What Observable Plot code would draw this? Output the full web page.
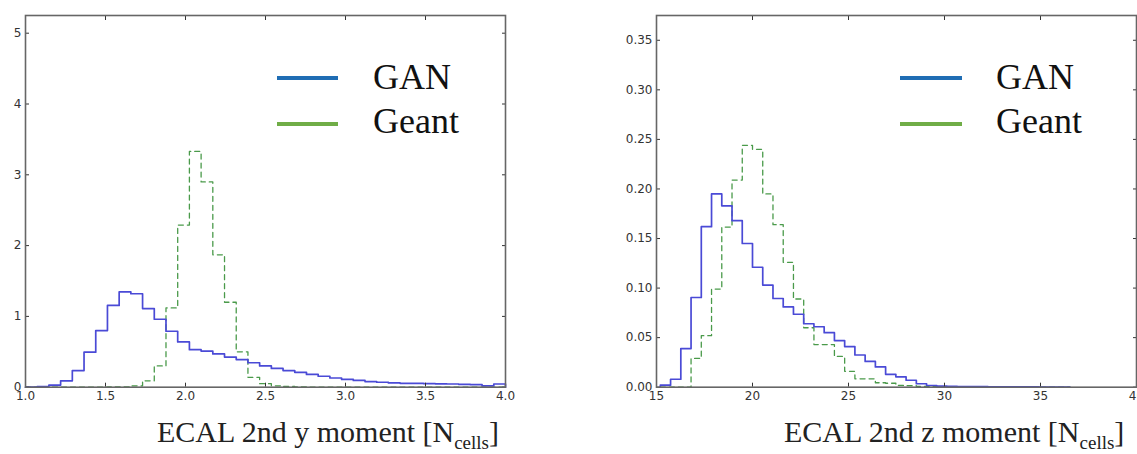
<!DOCTYPE html>
<html><head><meta charset="utf-8">
<script src="https://cdn.jsdelivr.net/npm/d3@7"></script>
<script src="https://cdn.jsdelivr.net/npm/@observablehq/plot@0.6"></script>
<style>
html,body{margin:0;padding:0;background:#fff;}
#wrap{position:relative;width:1137px;height:454px;overflow:hidden;background:#fff;}
#left{position:absolute;left:0;top:0;}
#right{position:absolute;left:580px;top:0;}
#overlay{position:absolute;left:0;top:0;pointer-events:none;}
</style></head>
<body>
<div id="wrap"><div id="left"></div><div id="right"></div><svg id="overlay" width="1137" height="454"></svg></div>
<script>
// ---- data ----
const seriesNames = ["GAN", "Geant"];

// ECAL 2nd y moment: 41 bins from 1.0 to 4.0
const yMomentBinStart = 1.0;
const yMomentBinEnd = 4.0;
const yMomentBinCount = 41;
const yMomentGAN = [0, 0.01, 0.03, 0.09, 0.235, 0.495, 0.8, 1.155, 1.345, 1.32, 1.11, 0.96, 0.79, 0.64, 0.53, 0.51, 0.47, 0.425, 0.39, 0.345, 0.30, 0.265, 0.235, 0.21, 0.18, 0.155, 0.13, 0.11, 0.095, 0.08, 0.07, 0.06, 0.055, 0.055, 0.05, 0.048, 0.045, 0.04, 0.035, 0.02, 0.045];
const yMomentGeant = [0, 0, 0, 0, 0, 0, 0, 0.003, 0.005, 0.02, 0.09, 0.3, 1.12, 2.29, 3.33, 2.9, 1.87, 1.2, 0.5, 0.14, 0.05, 0.02, 0.01, 0.005, 0.002, 0.001, 0, 0, 0, 0, 0, 0, 0, 0, 0, 0, 0, 0, 0, 0, 0];
const yMomentXTicks = [1.0, 1.5, 2.0, 2.5, 3.0, 3.5, 4.0];
const yMomentYTicks = [0, 1, 2, 3, 4, 5];

// ECAL 2nd z moment: 40 bins from 15.2 to 36.53
const zMomentBinStart = 15.2;
const zMomentBinEnd = 36.533;
const zMomentBinCount = 40;
const zMomentGAN = [0.002, 0.008, 0.039, 0.0905, 0.162, 0.195, 0.183, 0.168, 0.145, 0.121, 0.103, 0.0895, 0.081, 0.0736, 0.064, 0.061, 0.055, 0.047, 0.041, 0.0325, 0.026, 0.0205, 0.013, 0.0105, 0.007, 0.0035, 0.0017, 0.001, 0.0008, 0.0006, 0.0005, 0.0005, 0.0004, 0.0003, 0.0003, 0.0003, 0.0003, 0.0002, 0.0002, 0.0002];
const zMomentGeant = [0, 0, 0, 0.029, 0.052, 0.099, 0.1615, 0.209, 0.244, 0.240, 0.195, 0.164, 0.126, 0.089, 0.060, 0.043, 0.043, 0.031, 0.016, 0.0085, 0.0085, 0.0045, 0.004, 0.0018, 0.0015, 0.0008, 0.0005, 0.0003, 0.0002, 0.0001, 0, 0, 0, 0, 0, 0, 0, 0, 0, 0];
const zMomentXTicks = [15, 20, 25, 30, 35, 40];
const zMomentYTicks = [0, 0.05, 0.10, 0.15, 0.20, 0.25, 0.30, 0.35];

// ---- helpers ----
function binEdges(start, end, count) {
  return d3.range(count + 1).map(i => start + (end - start) * i / count);
}
function stepPoints(edges, values) {
  const pts = [{x: edges[0], y: 0}];
  values.forEach((v, i) => pts.push({x: edges[i], y: v}));
  pts.push({x: edges[values.length], y: values[values.length - 1]});
  pts.push({x: edges[values.length], y: 0});
  return pts;
}

const GAN_COLOR = "#4a4ad6";
const GEANT_COLOR = "#4a9a4a";

function panel(o) {
  return Plot.plot({
    width: o.width, height: 410,
    marginLeft: o.marginLeft, marginRight: o.marginRight, marginTop: 15, marginBottom: 23.3,
    x: {domain: o.xDomain},
    y: {domain: o.yDomain},
    style: {fontFamily: "'DejaVu Sans', sans-serif", fontSize: "12px", color: "#333", background: "transparent"},
    marks: [
      Plot.line(stepPoints(o.edges, o.geant), {x: "x", y: "y", curve: "step-after", stroke: GEANT_COLOR, strokeWidth: 1.3, strokeDasharray: "5,4"}),
      Plot.line(stepPoints(o.edges, o.gan), {x: "x", y: "y", curve: "step-after", stroke: GAN_COLOR, strokeWidth: 1.7}),
      Plot.axisX({ticks: o.xTicks, anchor: "bottom", tickSize: -4, tickPadding: 8, tickFormat: o.xFmt, label: null}),
      Plot.axisX({ticks: o.xTicks, anchor: "top", tickSize: -4, tickFormat: () => "", label: null}),
      Plot.axisY({ticks: o.yTicks, anchor: "left", tickSize: -4, tickPadding: 8, tickFormat: o.yFmt, label: null}),
      Plot.axisY({ticks: o.yTicks, anchor: "right", tickSize: -4, tickFormat: () => "", label: null}),
      Plot.frame({stroke: "#666", strokeWidth: 1.6})
    ]
  });
}

document.getElementById("left").append(panel({
  width: 520, marginLeft: 25, marginRight: 15,
  edges: binEdges(yMomentBinStart, yMomentBinEnd, yMomentBinCount),
  gan: yMomentGAN, geant: yMomentGeant,
  xDomain: [1.0, 4.0], yDomain: [0, 5.25],
  xTicks: yMomentXTicks, yTicks: yMomentYTicks,
  xFmt: d3.format(".1f"), yFmt: d3.format("d")
}));

document.getElementById("right").append(panel({
  width: 557, marginLeft: 76, marginRight: 1,
  edges: binEdges(zMomentBinStart, zMomentBinEnd, zMomentBinCount),
  gan: zMomentGAN, geant: zMomentGeant,
  xDomain: [15, 40], yDomain: [0, 0.375],
  xTicks: zMomentXTicks, yTicks: zMomentYTicks,
  xFmt: d3.format("d"), yFmt: d3.format(".2f")
}));

// ---- legends and axis titles ----
const overlay = d3.select("#overlay");
const legendColors = ["#1f6db4", "#70ad47"];
[{x1: 277, x2: 338, tx: 373}, {x1: 900, x2: 962, tx: 996}].forEach(L => {
  seriesNames.forEach((name, i) => {
    const ly = 78 + i * 46;
    overlay.append("line").attr("x1", L.x1).attr("x2", L.x2).attr("y1", ly).attr("y2", ly)
      .attr("stroke", legendColors[i]).attr("stroke-width", 4);
    overlay.append("text").attr("x", L.tx).attr("y", 89 + i * 44)
      .attr("font-family", "'Liberation Serif', 'Times New Roman', serif").attr("font-size", 36)
      .attr("fill", "#111").text(name);
  });
});
[{x: 157, label: "ECAL 2nd y moment [N"}, {x: 784, label: "ECAL 2nd z moment [N"}].forEach(T => {
  const t = overlay.append("text").attr("x", T.x).attr("y", 442)
    .attr("font-family", "'Liberation Serif', 'Times New Roman', serif").attr("font-size", 30).attr("fill", "#222");
  t.append("tspan").text(T.label);
  t.append("tspan").attr("font-size", 19).attr("dy", 7).text("cells");
  t.append("tspan").attr("dy", -7).text("]");
});
</script>
</body></html>
